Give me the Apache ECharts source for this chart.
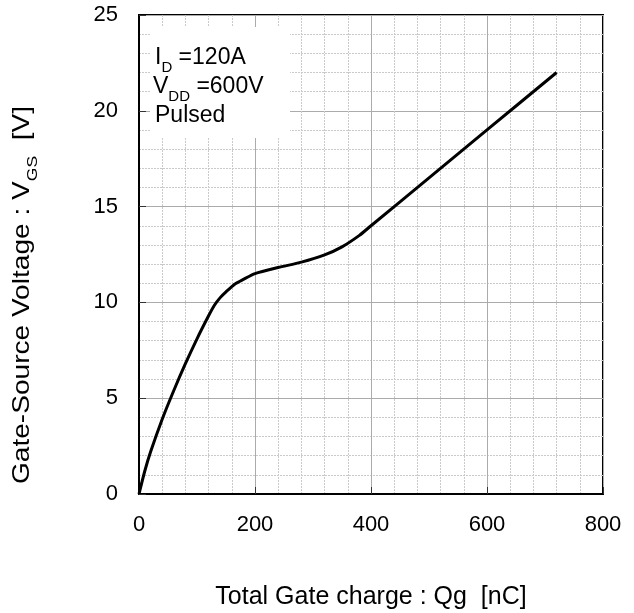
<!DOCTYPE html>
<html>
<head>
<meta charset="utf-8">
<script src="https://cdn.jsdelivr.net/npm/echarts@6/dist/echarts.min.js"></script>
<style>html,body{margin:0;padding:0;background:#fff;}#c{width:634px;height:613px;}</style>
</head>
<body>
<div id="c"></div>
<script>
// Data
const chargeNC = [0, 10, 20, 40, 60, 80, 100, 120, 130, 140, 150, 165, 180, 200, 240, 280, 320, 350, 380, 400, 500, 600, 720];
const vgsV     = [0, 1.2, 2.2, 3.9, 5.4, 6.8, 8.1, 9.3, 9.85, 10.25, 10.55, 10.95, 11.2, 11.5, 11.82, 12.1, 12.48, 12.9, 13.5, 14.0, 16.5, 19.0, 22.0];
const xTicks = [0, 200, 400, 600, 800];
const yTicks = [0, 5, 10, 15, 20, 25];

const FONT = 'Liberation Sans, Arial, sans-serif';
const chart = echarts.init(document.getElementById('c'), null, {renderer: 'canvas'});

const points = chargeNC.map((q, i) => [q, vgsV[i]]);
const subRich = {
  n: {fontSize: 23, fontFamily: FONT, fill: '#000', lineHeight: 26, verticalAlign: 'top'},
  s: {fontSize: 15, fontFamily: FONT, fill: '#000', lineHeight: 15, padding: [14, 0, 0, 0], verticalAlign: 'top'}
};
const subRichTitle = {
  n: {fontSize: 24, fontFamily: FONT, fill: '#000', lineHeight: 27, verticalAlign: 'top'},
  s: {fontSize: 15, fontFamily: FONT, fill: '#000', lineHeight: 15, padding: [15, 0, 0, 0], verticalAlign: 'top'}
};

chart.setOption({
  animation: false,
  backgroundColor: '#fff',
  grid: {left: 139, right: 31, top: 15, bottom: 119, show: true, borderColor: '#000', borderWidth: 2, backgroundColor: 'transparent'},
  xAxis: {
    type: 'value', min: xTicks[0], max: xTicks[xTicks.length - 1], interval: 200,
    axisLine: {show: true, onZero: false, lineStyle: {color: '#000', width: 2}},
    axisTick: {show: true, inside: true, length: 7, lineStyle: {color: '#333', width: 1}},
    axisLabel: {color: '#000', fontSize: 22, fontFamily: FONT, margin: 20},
    splitLine: {show: true, lineStyle: {color: '#ababab', width: 1}},
    minorTick: {show: false, splitNumber: 5},
    minorSplitLine: {show: true, lineStyle: {color: '#cacaca', width: 1, type: [2, 1]}}
  },
  yAxis: {
    type: 'value', min: yTicks[0], max: yTicks[yTicks.length - 1], interval: 5,
    axisLine: {show: true, onZero: false, lineStyle: {color: '#000', width: 2}},
    axisTick: {show: true, inside: true, length: 7, lineStyle: {color: '#333', width: 1}},
    axisLabel: {color: '#000', fontSize: 22, fontFamily: FONT, margin: 21},
    splitLine: {show: true, lineStyle: {color: '#ababab', width: 1}},
    minorTick: {show: false, splitNumber: 5},
    minorSplitLine: {show: true, lineStyle: {color: '#cacaca', width: 1, type: [2, 1]}}
  },
  series: [{
    type: 'line', data: points, showSymbol: false, smooth: 0.25,
    lineStyle: {color: '#000', width: 3}, z: 5
  }],
  graphic: [
    {type: 'rect', shape: {x: 150, y: 27, width: 140, height: 111}, style: {fill: '#fff'}, z: 10},
    {type: 'text', x: 155, y: 59, z: 11, style: {
      text: '{n|I}{s|D}{n| =120A}', fill: '#000', textVerticalAlign: 'middle', rich: subRich}},
    {type: 'text', x: 153, y: 88, z: 11, style: {
      text: '{n|V}{s|DD}{n| =600V}', fill: '#000', textVerticalAlign: 'middle', rich: subRich}},
    {type: 'text', x: 155, y: 116, z: 11, style: {
      text: 'Pulsed', fill: '#000', fontSize: 23, fontFamily: FONT, textVerticalAlign: 'middle'}},
    {type: 'text', x: 24, y: 295, rotation: Math.PI / 2, scaleX: 1.17, z: 11, style: {
      text: '{n|Gate-Source Voltage : V}{s|GS}{n|  [V]}', fill: '#000', textAlign: 'center', textVerticalAlign: 'middle', rich: subRichTitle}},
    {type: 'text', x: 371, y: 597, z: 11, style: {
      text: 'Total Gate charge : Qg  [nC]', fill: '#000', fontSize: 25, fontFamily: FONT, textAlign: 'center', textVerticalAlign: 'middle'}}
  ]
});
</script>
</body>
</html>
